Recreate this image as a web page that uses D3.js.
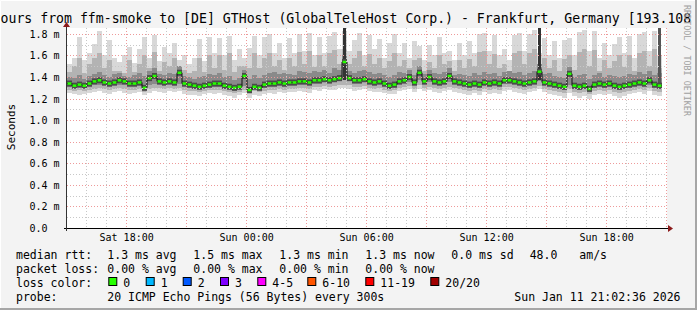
<!DOCTYPE html>
<html>
<head>
<meta charset="utf-8">
<script src="https://cdn.jsdelivr.net/npm/d3@7"></script>
<style>
  body { margin: 0; background: #f3f3f3; }
  svg { display: block; font-family: "DejaVu Sans Mono", monospace; }
  text { white-space: pre; }
</style>
</head>
<body>
<svg width="697" height="310"></svg>
<script>
// 30 hours, one column every 15 minutes, values in ms
let tStart = new Date(2026, 0, 10, 15, 2, 36);
let tEnd = new Date(2026, 0, 11, 21, 2, 36);
let stepMinutes = 15;

let median = [1.34,1.32,1.33,1.32,1.34, 1.36,1.37,1.35,1.34,1.35, 1.37,1.36,1.34,1.34,1.35,
  1.30,1.39,1.41,1.36,1.35, 1.36,1.35,1.44,1.34,1.33, 1.32,1.31,1.32,1.33,1.34,
  1.34,1.32,1.31,1.30,1.31, 1.41,1.28,1.31,1.30,1.33, 1.34,1.34,1.35,1.34,1.35,
  1.35,1.36,1.36,1.35,1.37, 1.37,1.38,1.37,1.38,1.39, 1.54,1.39,1.37,1.37,1.38,
  1.36,1.35,1.36,1.34,1.32, 1.33,1.36,1.37,1.40,1.35, 1.44,1.36,1.40,1.36,1.35,
  1.36,1.41,1.36,1.35,1.34, 1.33,1.34,1.33,1.35,1.34, 1.35,1.34,1.37,1.37,1.36,
  1.35,1.34,1.35,1.36,1.45, 1.35,1.34,1.33,1.32,1.31, 1.43,1.32,1.31,1.32,1.29,
  1.33,1.34,1.33,1.34,1.32, 1.31,1.32,1.33,1.34,1.35, 1.34,1.37,1.33,1.32];

let maxRtt = [1.52,1.58,1.77,1.56,1.62, 1.71,1.83,1.60,1.74,1.58, 1.54,1.60,1.68,1.53,1.66,
  1.77,1.58,1.79,1.55,1.68, 1.62,1.72,1.56,1.60,1.52, 1.58,1.75,1.55,1.77,1.62,
  1.76,1.60,1.78,1.56,1.66, 1.58,1.67,1.78,1.60,1.77, 1.80,1.62,1.72,1.58,1.76,
  1.62,1.80,1.64,1.81,1.60, 1.77,1.62,1.78,1.82,1.66, 1.83,1.64,1.74,1.81,1.60,
  1.79,1.66,1.75,1.58,1.72, 1.80,1.62,1.72,1.58,1.73, 1.69,1.56,1.70,1.60,1.77,
  1.62,1.64,1.56,1.72,1.60, 1.73,1.62,1.80,1.81,1.64, 1.79,1.60,1.66,1.56,1.79,
  1.81,1.64,1.80,1.84,1.62, 1.76,1.60,1.73,1.58,1.74, 1.76,1.60,1.82,1.84,1.64,
  1.83,1.58,1.72,1.60,1.71, 1.77,1.62,1.78,1.58,1.80, 1.82,1.64,1.83,1.60];

let p90 = [1.45,1.50,1.58,1.44,1.52, 1.58,1.62,1.48,1.56,1.46, 1.46,1.44,1.56,1.45,1.52,
  1.60,1.48,1.63,1.46,1.54, 1.50,1.58,1.48,1.47,1.44, 1.46,1.58,1.45,1.60,1.48,
  1.60,1.47,1.62,1.45,1.50, 1.50,1.48,1.62,1.48,1.58, 1.62,1.50,1.56,1.47,1.58,
  1.50,1.63,1.52,1.64,1.49, 1.60,1.50,1.62,1.65,1.52, 1.66,1.52,1.58,1.64,1.50,
  1.61,1.52,1.58,1.48,1.55, 1.62,1.50,1.56,1.48,1.56, 1.58,1.46,1.54,1.48,1.60,
  1.52,1.55,1.46,1.56,1.48, 1.57,1.50,1.63,1.64,1.52, 1.61,1.48,1.52,1.46,1.62,
  1.64,1.52,1.62,1.66,1.50, 1.58,1.48,1.56,1.46,1.57, 1.60,1.47,1.63,1.66,1.50,
  1.65,1.46,1.56,1.48,1.55, 1.60,1.49,1.60,1.46,1.62, 1.64,1.50,1.66,1.48];

let p75 = [1.40,1.39,1.42,1.38,1.41, 1.43,1.45,1.42,1.40,1.43, 1.44,1.41,1.40,1.42,1.44,
  1.41,1.46,1.48,1.43,1.42, 1.44,1.43,1.50,1.41,1.40, 1.38,1.40,1.41,1.43,1.42,
  1.44,1.40,1.41,1.37,1.39, 1.47,1.38,1.42,1.39,1.42, 1.44,1.45,1.43,1.44,1.43,
  1.42,1.46,1.45,1.44,1.46, 1.45,1.47,1.44,1.48,1.47, 1.60,1.46,1.44,1.46,1.47,
  1.45,1.43,1.44,1.42,1.40, 1.42,1.45,1.44,1.47,1.42, 1.50,1.43,1.47,1.44,1.43,
  1.45,1.48,1.42,1.43,1.42, 1.41,1.44,1.42,1.45,1.43, 1.44,1.41,1.45,1.46,1.44,
  1.45,1.42,1.44,1.46,1.52, 1.43,1.44,1.41,1.40,1.39, 1.49,1.40,1.42,1.43,1.38,
  1.42,1.44,1.40,1.42,1.41, 1.40,1.41,1.43,1.42,1.45, 1.43,1.46,1.42,1.44];

let p25 = [1.31,1.30,1.31,1.30,1.31, 1.33,1.33,1.32,1.31,1.32, 1.33,1.33,1.31,1.31,1.32,
  1.28,1.33,1.34,1.33,1.32, 1.33,1.32,1.34,1.31,1.30, 1.29,1.29,1.30,1.30,1.31,
  1.31,1.29,1.29,1.28,1.29, 1.32,1.26,1.29,1.28,1.30, 1.31,1.31,1.32,1.31,1.32,
  1.32,1.33,1.33,1.32,1.34, 1.34,1.35,1.34,1.35,1.36, 1.37,1.36,1.34,1.34,1.35,
  1.33,1.32,1.33,1.31,1.29, 1.30,1.33,1.34,1.35,1.32, 1.37,1.33,1.35,1.33,1.32,
  1.33,1.35,1.33,1.32,1.31, 1.30,1.31,1.30,1.32,1.31, 1.32,1.31,1.34,1.34,1.33,
  1.32,1.31,1.32,1.33,1.36, 1.32,1.31,1.30,1.29,1.28, 1.33,1.29,1.28,1.29,1.27,
  1.30,1.31,1.30,1.31,1.29, 1.28,1.29,1.30,1.31,1.32, 1.31,1.33,1.30,1.29];

let p10 = [1.28,1.27,1.28,1.27,1.28, 1.29,1.30,1.29,1.28,1.29, 1.30,1.29,1.28,1.28,1.29,
  1.26,1.29,1.30,1.30,1.29, 1.30,1.29,1.30,1.28,1.27, 1.27,1.26,1.27,1.28,1.28,
  1.28,1.27,1.26,1.25,1.26, 1.28,1.24,1.27,1.26,1.27, 1.28,1.28,1.29,1.28,1.29,
  1.29,1.30,1.30,1.29,1.31, 1.31,1.32,1.31,1.32,1.33, 1.33,1.33,1.31,1.31,1.32,
  1.30,1.29,1.30,1.28,1.27, 1.28,1.30,1.31,1.32,1.29, 1.33,1.30,1.31,1.30,1.29,
  1.30,1.31,1.30,1.29,1.28, 1.27,1.28,1.27,1.29,1.28, 1.29,1.28,1.31,1.31,1.30,
  1.29,1.28,1.29,1.30,1.32, 1.29,1.28,1.27,1.26,1.25, 1.29,1.26,1.25,1.26,1.24,
  1.27,1.28,1.27,1.28,1.26, 1.25,1.26,1.27,1.28,1.29, 1.28,1.30,1.27,1.26];

let minRtt = [1.25,1.24,1.23,1.24,1.25, 1.26,1.27,1.25,1.24,1.26, 1.27,1.25,1.24,1.25,1.26,
  1.23,1.25,1.27,1.26,1.25, 1.27,1.26,1.27,1.24,1.23, 1.23,1.22,1.24,1.25,1.24,
  1.25,1.23,1.22,1.21,1.23, 1.25,1.21,1.23,1.22,1.24, 1.25,1.24,1.26,1.25,1.26,
  1.26,1.27,1.26,1.25,1.28, 1.27,1.29,1.28,1.28,1.30, 1.30,1.29,1.27,1.28,1.29,
  1.27,1.26,1.26,1.25,1.24, 1.24,1.27,1.28,1.29,1.26, 1.29,1.27,1.28,1.26,1.25,
  1.27,1.28,1.26,1.25,1.24, 1.23,1.25,1.23,1.26,1.24, 1.25,1.24,1.27,1.28,1.26,
  1.25,1.24,1.26,1.27,1.29, 1.26,1.24,1.23,1.22,1.21, 1.25,1.22,1.21,1.22,1.20,
  1.23,1.24,1.23,1.24,1.22, 1.21,1.22,1.24,1.25,1.26, 1.24,1.27,1.23,1.22];

// dark outlier columns
let spikeIndex = [55, 94, 118];
let spikeLow = [1.37, 1.37, 1.31];
let spikeHigh = [1.86, 1.86, 1.86];
let spikeColor = ["#333333", "#333333", "#555555"];

let yTicks = [0, 0.2, 0.4, 0.6, 0.8, 1.0, 1.2, 1.4, 1.6, 1.8];
let yTickLabels = ["0.0", "0.2 m", "0.4 m", "0.6 m", "0.8 m", "1.0 m", "1.2 m", "1.4 m", "1.6 m", "1.8 m"];

let lossLabels = ["0", "1", "2", "3", "4-5", "6-10", "11-19", "20/20"];
let lossColors = ["#26ff00", "#00b8ff", "#0059ff", "#7e00ff", "#ff00ff", "#ff5500", "#ff0000", "#a10000"];

let title = "ours from ffm-smoke to [DE] GTHost (GlobalTeleHost Corp.) - Frankfurt, Germany [193.108";

let svg = d3.select("svg"),
    width = +svg.attr("width"),
    height = +svg.attr("height");

let plotLeft = 67, plotRight = 667, plotTop = 28, plotBottom = 228;

let x = d3.scaleTime().domain([tStart, tEnd]).range([plotLeft, plotRight]);
let y = d3.scaleLinear().domain([0, 1.855]).range([plotBottom, plotTop]);

let colTime = i => new Date(tStart.getTime() + i * stepMinutes * 60000);
let colX = i => x(colTime(i));
let colW = i => x(colTime(i + 1)) - x(colTime(i));

// frame
svg.append("rect").attr("width", width).attr("height", height).attr("fill", "#f3f3f3");
svg.append("path").attr("d", `M0.5,${height} V0.5 H${width}`).attr("fill", "none").attr("stroke", "#ffffff").attr("stroke-width", 1);
svg.append("path").attr("d", `M${width - 1},0 V${height - 1} H0`).attr("fill", "none").attr("stroke", "#a6a6a6").attr("stroke-width", 2);

// canvas
svg.append("rect")
  .attr("x", plotLeft).attr("y", plotTop)
  .attr("width", plotRight - plotLeft).attr("height", plotBottom - plotTop)
  .attr("fill", "#ffffff");

let plot = svg.append("g").attr("id", "plot");

let bands = [
  { lo: minRtt, hi: maxRtt, color: "#d8d8d8" },
  { lo: p10, hi: p90, color: "#b3b3b3" },
  { lo: p25, hi: p75, color: "#8a8a8a" }
];

bands.forEach(b => {
  plot.append("g").selectAll("rect")
    .data(median.map((d, i) => i))
    .enter()
    .append("rect")
    .attr("x", colX)
    .attr("width", colW)
    .attr("y", i => y(b.hi[i]))
    .attr("height", i => y(b.lo[i]) - y(b.hi[i]))
    .attr("fill", b.color)
    .attr("shape-rendering", "crispEdges");
});

plot.append("g").selectAll("rect")
  .data(spikeIndex)
  .enter()
  .append("rect")
  .attr("x", d => colX(d) + colW(d) / 2 - 1.5)
  .attr("width", 3)
  .attr("y", (d, k) => Math.max(plotTop, y(spikeHigh[k])))
  .attr("height", (d, k) => y(spikeLow[k]) - Math.max(plotTop, y(spikeHigh[k])))
  .attr("fill", (d, k) => spikeColor[k])
  .attr("shape-rendering", "crispEdges");

// dark core right round the median of each column
plot.append("g").selectAll("rect")
  .data(median)
  .enter()
  .append("rect")
  .attr("x", (d, i) => colX(i))
  .attr("width", (d, i) => colW(i))
  .attr("y", d => y(d) - 3)
  .attr("height", 6)
  .attr("fill", "#4a4a4a");

// median: thin dark step line, green marks (0 loss)
let medianPts = median.map((d, i) => [colTime(i), d]);
medianPts.push([colTime(median.length), median[median.length - 1]]);
plot.append("path")
  .datum(medianPts)
  .attr("d", d3.line().x(d => x(d[0])).y(d => y(d[1])).curve(d3.curveStepAfter))
  .attr("fill", "none")
  .attr("stroke", "#111")
  .attr("stroke-width", 1);

plot.append("g").selectAll("rect")
  .data(median)
  .enter()
  .append("rect")
  .attr("x", (d, i) => colX(i) + 0.5)
  .attr("width", (d, i) => colW(i) - 1)
  .attr("y", d => y(d) - 1.25)
  .attr("height", 2.5)
  .attr("fill", lossColors[0]);

// grid, drawn over the smoke
let grid = svg.append("g").attr("id", "grid");
let minorY = d3.range(1, 19).map(d => d / 10).filter(d => Math.round(d * 10) % 2 === 1);
grid.selectAll(".ymin").data(minorY).enter().append("line")
  .attr("x1", plotLeft).attr("x2", plotRight)
  .attr("y1", d => Math.round(y(d)) + 0.5).attr("y2", d => Math.round(y(d)) + 0.5)
  .attr("stroke", "#c8c8c8").attr("stroke-dasharray", "1,2");
grid.selectAll(".ymaj").data(yTicks.slice(1)).enter().append("line")
  .attr("x1", plotLeft).attr("x2", plotRight)
  .attr("y1", d => Math.round(y(d)) + 0.5).attr("y2", d => Math.round(y(d)) + 0.5)
  .attr("stroke", "#ee9a9a").attr("stroke-dasharray", "1,2");

let hours = d3.timeHour.range(tStart, tEnd);
grid.selectAll(".xmin").data(hours.filter(d => d.getHours() % 3 !== 0)).enter().append("line")
  .attr("x1", d => Math.round(x(d)) + 0.5).attr("x2", d => Math.round(x(d)) + 0.5)
  .attr("y1", plotTop).attr("y2", plotBottom)
  .attr("stroke", "#c8c8c8").attr("stroke-dasharray", "1,2");
grid.selectAll(".xmaj").data(hours.filter(d => d.getHours() % 3 === 0)).enter().append("line")
  .attr("x1", d => Math.round(x(d)) + 0.5).attr("x2", d => Math.round(x(d)) + 0.5)
  .attr("y1", plotTop).attr("y2", plotBottom)
  .attr("stroke", "#ee9a9a").attr("stroke-dasharray", "1,2");

// axes
let xAxis = d3.axisBottom(x)
  .tickValues(hours.filter(d => d.getHours() % 6 === 0))
  .tickFormat(d3.timeFormat("%a %H:%M"))
  .tickSize(0).tickPadding(6);
let gx = svg.append("g").attr("transform", `translate(0,${plotBottom})`).call(xAxis);
gx.select(".domain").remove();
gx.selectAll("text").attr("font-family", "DejaVu Sans Mono").attr("font-size", 10).attr("fill", "#000");

let yAxis = d3.axisLeft(y).tickValues(yTicks).tickFormat((d, i) => yTickLabels[i]).tickSize(0);
let gy = svg.append("g").attr("transform", `translate(${plotLeft},0)`).call(yAxis);
gy.select(".domain").remove();
gy.selectAll("text")
  .attr("text-anchor", "start").attr("x", -37.5).attr("dy", "0.35em")
  .attr("font-family", "DejaVu Sans Mono").attr("font-size", 10).attr("fill", "#000");

svg.append("line").attr("x1", plotLeft - 3).attr("x2", plotRight + 2)
  .attr("y1", plotBottom + 0.5).attr("y2", plotBottom + 0.5).attr("stroke", "#000");
svg.append("line").attr("x1", plotLeft - 0.5).attr("x2", plotLeft - 0.5)
  .attr("y1", plotBottom + 3).attr("y2", plotTop - 2).attr("stroke", "#333");
svg.append("path").attr("d", `M${plotRight + 1},${plotBottom - 3} L${plotRight + 6},${plotBottom + 0.5} L${plotRight + 1},${plotBottom + 4} Z`).attr("fill", "#8b1a1a");
svg.append("path").attr("d", `M${plotLeft - 4},${plotTop - 1} L${plotLeft - 0.5},${plotTop - 6} L${plotLeft + 3},${plotTop - 1} Z`).attr("fill", "#8b1a1a");

// texts
svg.append("text").attr("x", 0.5).attr("y", 23).attr("font-size", 13.2).attr("fill", "#000").text(title);

svg.append("text")
  .attr("transform", "translate(14.5,127) rotate(-90)")
  .attr("text-anchor", "middle").attr("font-size", 11).attr("fill", "#000")
  .text("Seconds");

svg.append("text")
  .attr("transform", "translate(684,5) rotate(90)")
  .attr("font-size", 8.4).attr("fill", "#a0a0a0")
  .text("RRDTOOL / TOBI OETIKER");

let legend = svg.append("g").attr("font-size", 11.5).attr("fill", "#000");
let rowY = [259, 273, 287, 301];
let row1 = [[16, "median rtt:"], [107.3, "1.3 ms avg"], [193.3, "1.5 ms max"], [279.3, "1.3 ms min"],
  [365.3, "1.3 ms now"], [451.3, "0.0 ms sd"], [529.7, "48.0"], [579.3, "am/s"]];
let row2 = [[16, "packet loss:"], [107.3, "0.00 % avg"], [193.3, "0.00 % max"], [279.3, "0.00 % min"], [365.3, "0.00 % now"]];
row1.forEach(r => legend.append("text").attr("x", r[0]).attr("y", rowY[0]).text(r[1]));
row2.forEach(r => legend.append("text").attr("x", r[0]).attr("y", rowY[1]).text(r[1]));
legend.append("text").attr("x", 16).attr("y", rowY[2]).text("loss color:");

let boxX = [108.3, 145.7, 182.7, 220, 257.3, 307.3, 365.3, 430.3];
lossLabels.forEach((l, i) => {
  legend.append("rect").attr("x", boxX[i] + 0.5).attr("y", 277.5).attr("width", 8).attr("height", 8)
    .attr("fill", lossColors[i]).attr("stroke", "#000").attr("stroke-width", 1);
  legend.append("text").attr("x", boxX[i] + 15).attr("y", rowY[2]).text(l);
});

legend.append("text").attr("x", 16).attr("y", rowY[3]).text("probe:");
legend.append("text").attr("x", 107.3).attr("y", rowY[3]).text("20 ICMP Echo Pings (56 Bytes) every 300s");
legend.append("text").attr("x", 680.5).attr("y", rowY[3]).attr("text-anchor", "end").text("Sun Jan 11 21:02:36 2026");
</script>
</body>
</html>
